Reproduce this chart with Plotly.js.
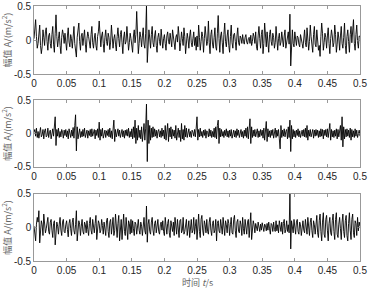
<!DOCTYPE html>
<html><head><meta charset="utf-8">
<script src="https://cdn.plot.ly/plotly-3.0.1.min.js"></script>
<style>html,body{margin:0;padding:0;background:#fff;}#c{width:368px;height:288px;}</style>
</head><body><div id="c"></div>
<script>
// sampling: t0 = 0 s, dt = 0.00125 s
var t0 = 0, dt = 0.00125;
var xTicks = [0,0.05,0.1,0.15,0.2,0.25,0.3,0.35,0.4,0.45,0.5];
var xTickText = ['0','0.05','0.1','0.15','0.2','0.25','0.3','0.35','0.4','0.45','0.5'];
var yTicks = [-0.5,0,0.5];
var yTickText = ['-0.5','0','0.5'];
var yTitle = '幅值 A/(m/s<sup>2</sup>)';
var xTitle = '时间 <i>t</i>/s';

var signal1 = [
0.02,0.12,0.30,0.05,-0.12,-0.05,0.18,0.22,-0.08,-0.20,
-0.10,0.15,0.04,-0.08,0.12,0.18,-0.02,-0.15,0.06,0.10,
-0.05,-0.12,0.08,0.20,-0.06,-0.18,0.10,0.37,0.05,-0.10,
0.02,0.12,-0.08,-0.20,0.04,0.15,0.08,-0.05,0.10,-0.04,
-0.15,0.06,0.18,-0.03,-0.10,0.08,0.02,-0.12,0.12,0.20,
-0.05,-0.12,-0.25,0.04,0.12,0.25,-0.02,-0.15,0.06,0.10,
-0.08,0.04,0.15,-0.06,-0.18,0.02,0.12,0.05,-0.05,-0.12,
0.08,0.20,-0.04,-0.12,0.03,0.10,-0.08,-0.15,0.05,0.12,
0.28,0.02,-0.10,0.06,0.12,-0.05,-0.18,0.04,0.15,-0.02,
-0.08,0.10,0.04,-0.14,-0.03,0.22,0.06,-0.12,0.02,0.08,
-0.06,-0.16,0.05,0.18,0.02,-0.10,0.08,0.14,-0.04,-0.20,
0.03,0.12,-0.06,-0.02,0.20,0.05,-0.15,-0.04,0.10,0.02,
-0.10,-0.18,0.06,0.15,-0.04,0.08,0.42,0.02,-0.20,-0.05,
0.12,0.04,-0.10,0.06,0.18,-0.06,-0.12,0.10,0.50,-0.33,
-0.05,0.15,0.03,-0.12,0.08,0.20,-0.04,-0.10,0.06,0.14,
-0.08,-0.18,0.04,0.10,-0.02,-0.08,0.16,0.04,-0.12,0.02,
0.08,-0.05,-0.15,0.06,0.12,-0.02,-0.06,0.10,0.03,-0.10,
0.15,0.05,-0.08,-0.14,0.04,0.08,-0.03,0.20,0.06,-0.16,
-0.04,0.12,0.02,-0.08,0.18,0.05,-0.20,-0.06,0.10,0.02,
-0.12,0.06,0.15,-0.04,-0.10,0.02,0.12,-0.08,0.04,-0.15,
0.06,-0.10,0.22,0.04,-0.15,-0.02,0.12,0.05,-0.18,0.02,
0.20,0.06,-0.08,-0.02,0.28,-0.04,-0.20,0.08,0.15,-0.06,
-0.12,0.04,0.18,-0.10,-0.15,0.10,0.36,0.02,-0.18,0.06,
0.12,-0.04,-0.20,0.08,0.25,-0.02,-0.10,0.06,0.15,-0.08,
-0.18,0.05,0.22,-0.04,-0.12,0.08,0.10,-0.02,-0.15,0.06,
0.18,-0.04,-0.08,0.06,0.03,-0.05,0.08,-0.02,-0.06,0.04,
0.08,-0.03,-0.06,0.02,0.04,-0.05,0.07,-0.08,-0.02,0.10,
0.05,-0.05,0.12,-0.10,-0.15,0.06,0.20,0.02,-0.12,0.08,
0.15,-0.20,-0.05,0.25,0.04,-0.10,0.12,-0.06,-0.18,0.08,
0.15,-0.02,-0.08,0.10,0.04,-0.12,-0.04,0.20,0.05,-0.15,
0.02,0.10,-0.08,-0.03,0.12,0.04,-0.10,0.06,0.15,-0.12,
-0.04,0.08,0.12,-0.06,0.38,-0.38,0.06,0.15,-0.05,-0.10,
0.12,0.02,-0.08,0.06,0.04,-0.06,-0.10,0.08,0.03,-0.05,
-0.12,0.10,0.15,-0.04,-0.10,0.18,0.06,-0.15,-0.02,0.22,
0.05,-0.12,-0.18,0.08,0.20,-0.06,-0.10,0.15,0.02,-0.15,
-0.08,-0.24,0.05,0.25,0.10,-0.15,-0.04,0.10,0.04,-0.12,
0.06,0.18,-0.05,-0.20,0.02,0.15,0.06,-0.10,-0.04,0.22,
0.08,-0.18,-0.06,0.12,0.03,-0.15,0.06,0.20,-0.05,-0.12,
0.04,0.25,-0.08,-0.20,0.05,0.15,-0.02,-0.18,0.08,0.20,
-0.04,0.10,0.30,-0.05,-0.15,0.08,0.22,-0.02,-0.12,0.06,
0.05];

var signal2 = [
0.02,0.06,-0.04,0.08,-0.06,0.03,-0.07,0.05,0.09,-0.05,
-0.02,0.06,-0.08,0.04,0.07,-0.05,-0.03,0.08,-0.06,0.02,
0.05,-0.08,0.03,0.07,-0.04,0.10,0.25,-0.18,0.06,-0.04,
0.08,-0.06,0.03,-0.05,0.06,0.02,-0.07,0.05,-0.03,0.06,
-0.05,0.04,-0.08,0.07,0.02,-0.06,0.05,-0.04,0.09,-0.07,
0.12,0.28,-0.26,0.10,-0.08,0.05,0.07,-0.06,0.03,-0.05,
0.06,-0.04,0.08,-0.06,0.02,0.05,-0.07,0.04,-0.03,0.06,
-0.05,0.07,-0.04,0.02,0.06,-0.08,0.05,-0.03,0.07,-0.06,
0.17,-0.10,0.06,-0.04,0.08,-0.07,0.03,0.05,-0.06,0.04,
-0.03,0.06,-0.05,0.08,-0.06,0.04,-0.08,0.10,0.20,-0.12,
0.06,-0.05,0.03,0.07,-0.04,0.05,-0.06,0.02,0.06,-0.05,
0.04,-0.07,0.05,-0.03,0.06,-0.04,0.08,-0.06,0.03,-0.05,
0.07,-0.08,0.10,-0.06,0.20,-0.15,0.08,-0.10,0.12,-0.06,
0.05,-0.08,0.10,-0.12,0.06,0.15,-0.10,0.08,0.44,-0.42,
0.20,-0.15,0.12,-0.10,0.08,-0.06,0.10,-0.05,0.07,-0.04,
0.05,-0.07,0.03,0.06,-0.05,0.04,-0.06,0.08,-0.04,0.05,
-0.08,0.12,-0.10,0.06,0.15,-0.12,0.08,-0.05,0.10,-0.08,
0.06,-0.04,0.05,-0.07,0.12,-0.10,0.04,0.08,-0.06,0.05,
-0.12,0.15,-0.08,0.06,-0.10,0.12,-0.05,0.08,-0.06,0.04,
0.07,-0.05,0.03,-0.06,0.05,0.02,-0.04,0.06,-0.05,0.08,
0.25,-0.10,0.06,-0.05,0.08,-0.04,0.03,-0.06,0.05,-0.03,
0.06,-0.07,0.04,0.02,-0.05,0.07,-0.04,0.05,-0.06,0.03,
-0.05,0.08,-0.06,0.10,-0.08,0.12,0.20,-0.15,0.08,-0.05,
0.06,-0.04,0.03,-0.06,0.05,-0.03,0.07,-0.05,0.04,-0.06,
0.05,-0.04,0.06,-0.07,0.03,0.05,-0.05,0.04,-0.06,0.07,
-0.03,0.05,-0.06,0.04,0.06,-0.05,0.03,-0.07,0.05,-0.04,
0.08,-0.06,0.10,-0.08,0.12,0.22,-0.15,0.10,-0.06,0.05,
-0.04,0.06,-0.05,0.03,0.07,-0.06,0.04,-0.05,0.06,-0.03,
0.05,-0.07,0.08,-0.10,0.06,0.18,-0.12,0.07,-0.05,0.04,
-0.06,0.05,-0.03,0.06,-0.07,0.04,0.08,-0.06,0.05,-0.04,
0.06,-0.08,-0.23,0.12,-0.06,0.05,-0.04,0.07,-0.05,0.03,
0.06,-0.08,0.10,-0.06,0.20,-0.27,0.12,-0.08,0.06,-0.05,
0.04,-0.06,0.05,-0.03,0.07,-0.05,0.04,-0.06,0.03,0.05,
-0.04,0.06,-0.05,0.08,-0.06,0.12,-0.10,0.05,-0.04,0.06,
-0.05,0.03,0.06,-0.07,0.05,-0.04,0.06,-0.03,0.05,-0.06,
0.04,-0.05,0.07,-0.04,0.06,-0.08,0.05,-0.03,0.06,-0.05,
0.07,-0.06,0.08,0.15,-0.10,0.06,-0.05,0.04,-0.06,0.05,
-0.04,0.07,-0.08,0.06,-0.05,0.08,0.12,-0.10,0.25,-0.20,
0.10,-0.08,0.06,-0.05,0.07,-0.04,0.05,-0.06,0.08,-0.10,
0.06,-0.05,0.04,-0.06,0.07,-0.04,0.05,-0.06,0.03,0.05,
-0.04];

var signal3 = [
0.02,-0.08,-0.20,0.05,0.15,0.08,0.25,-0.23,-0.05,0.10,
0.04,-0.12,0.20,0.06,-0.08,-0.02,0.12,0.15,-0.06,-0.10,
0.08,0.12,-0.04,-0.15,0.06,0.10,-0.26,-0.05,0.08,0.02,
-0.10,0.05,0.15,-0.04,-0.12,0.08,0.12,-0.06,-0.08,0.04,
0.10,-0.03,-0.14,0.06,0.12,-0.02,-0.12,0.08,0.14,-0.05,
-0.10,0.04,0.25,-0.20,-0.08,0.10,0.05,-0.12,0.02,0.12,
-0.06,-0.10,0.08,0.04,-0.08,0.10,-0.03,-0.12,0.06,0.15,
-0.04,-0.10,0.12,0.02,-0.08,0.06,0.18,-0.18,-0.06,0.10,
0.06,-0.08,-0.04,0.12,0.03,-0.10,0.08,-0.02,-0.12,0.10,
0.14,-0.06,-0.15,0.08,0.12,-0.10,0.04,0.15,-0.12,-0.05,
0.20,-0.04,-0.15,0.06,0.18,-0.20,-0.05,0.12,-0.18,0.08,
0.20,-0.06,-0.12,0.15,-0.04,-0.18,0.10,0.06,-0.10,0.12,
-0.08,0.10,-0.02,-0.12,0.08,0.05,-0.10,0.06,0.12,-0.04,
-0.10,0.08,0.02,-0.12,0.06,0.15,-0.05,-0.10,0.32,-0.22,
0.05,0.12,-0.06,-0.10,0.08,0.15,-0.04,-0.12,0.06,0.10,
-0.08,0.02,0.12,-0.06,-0.10,0.04,0.08,-0.04,0.10,-0.06,
-0.12,0.15,0.04,-0.10,0.06,0.12,-0.08,-0.15,0.10,0.02,
-0.06,0.08,-0.12,0.15,0.04,-0.10,0.12,-0.02,-0.15,0.10,
0.12,-0.08,-0.04,0.15,-0.10,-0.06,0.08,0.12,-0.12,0.04,
0.10,-0.15,0.06,0.12,-0.08,-0.04,0.15,-0.10,0.02,0.12,
-0.18,0.05,0.20,-0.06,-0.15,0.12,0.18,-0.04,-0.12,0.10,
0.04,-0.08,0.12,-0.06,-0.10,0.08,0.15,-0.04,-0.12,0.06,
0.10,-0.08,-0.04,0.12,-0.20,0.06,0.10,-0.05,-0.08,0.12,
0.02,-0.10,0.15,-0.06,-0.12,0.10,0.04,-0.08,0.12,0.06,
-0.12,0.04,0.15,-0.08,-0.10,0.12,0.18,-0.05,-0.15,0.08,
0.12,-0.06,-0.08,0.10,0.04,-0.12,0.15,-0.02,-0.10,0.12,
-0.05,-0.10,0.08,0.12,-0.15,0.04,0.22,-0.18,-0.06,0.10,
0.04,-0.08,0.06,-0.03,-0.05,0.08,0.02,-0.06,0.05,-0.04,
0.07,-0.03,-0.06,0.05,0.03,-0.05,0.06,-0.04,0.08,-0.02,
-0.10,0.06,0.04,-0.06,0.08,-0.03,-0.06,0.10,-0.05,0.04,
-0.08,0.10,0.02,-0.06,0.08,-0.10,0.06,0.12,-0.08,-0.03,
0.10,-0.06,0.04,-0.08,0.50,-0.32,0.10,-0.04,-0.08,0.12,
0.03,-0.10,0.08,0.12,-0.06,-0.10,0.08,0.04,-0.12,0.06,
0.10,-0.04,-0.08,0.12,0.02,-0.10,0.15,-0.06,-0.12,0.08,
0.14,-0.05,-0.15,0.10,0.04,-0.10,0.12,0.18,-0.08,-0.15,
0.10,0.20,-0.06,-0.20,0.08,0.22,-0.10,-0.15,0.12,0.18,
-0.04,-0.20,0.06,0.15,-0.08,-0.12,0.10,0.20,-0.06,-0.18,
0.12,0.22,-0.10,-0.15,0.05,0.15,-0.02,-0.18,0.08,0.20,
-0.06,-0.15,0.10,0.18,-0.12,-0.20,0.06,0.22,-0.04,-0.18,
0.12,0.20,-0.08,-0.15,0.10,0.06,-0.12,0.15,-0.05,0.08,
0.02];

var signals = [signal1, signal2, signal3];
var axisNames = ['', '2', '3'];
var domains = [[0.733,1],[0.369,0.631],[0,0.263]];

var tickFont = {family:'Liberation Sans, Arial, sans-serif', size:10, color:'#262626'};
var titleFont = {family:'Noto Sans CJK SC, Liberation Sans, sans-serif', size:9, color:'#666666'};

var data = signals.map(function(s, i){
  return {y: s, x0: t0, dx: dt, type:'scatter', mode:'lines',
    line:{color:'#000000', width:0.9},
    xaxis:'x'+axisNames[i], yaxis:'y'+axisNames[i], hoverinfo:'skip', showlegend:false};
});

var layout = {
  width:368, height:288,
  margin:{l:34, r:8, t:6, b:27, pad:0},
  paper_bgcolor:'#ffffff', plot_bgcolor:'#ffffff',
  showlegend:false,
  annotations:[{text:xTitle, xref:'paper', yref:'paper', x:0.5, y:-0.083,
    xanchor:'center', yanchor:'middle', showarrow:false, font:titleFont}]
};
for (var i=0;i<3;i++){
  var xa = {
    domain:[0,1], range:[0,0.5], anchor:'y'+axisNames[i],
    tickmode:'array', tickvals:xTicks, ticktext:xTickText,
    ticks:'inside', ticklen:3, tickcolor:'#7f7f7f', tickwidth:0.8,
    showline:true, linecolor:'#7f7f7f', linewidth:0.8, mirror:'ticks',
    showgrid:false, zeroline:false, tickfont:tickFont, automargin:false
  };
  var ya = {
    domain:domains[i], range:[-0.5,0.5], anchor:'x'+axisNames[i],
    tickmode:'array', tickvals:yTicks, ticktext:yTickText,
    ticks:'inside', ticklen:3, tickcolor:'#7f7f7f', tickwidth:0.8,
    showline:true, linecolor:'#7f7f7f', linewidth:0.8, mirror:'ticks',
    showgrid:false, zeroline:false, tickfont:tickFont, automargin:false,
    title:{text:yTitle, font:titleFont, standoff:2}
  };
  layout['xaxis'+axisNames[i]] = xa;
  layout['yaxis'+axisNames[i]] = ya;
}
Plotly.newPlot('c', data, layout, {staticPlot:true, displayModeBar:false});
</script></body></html>
